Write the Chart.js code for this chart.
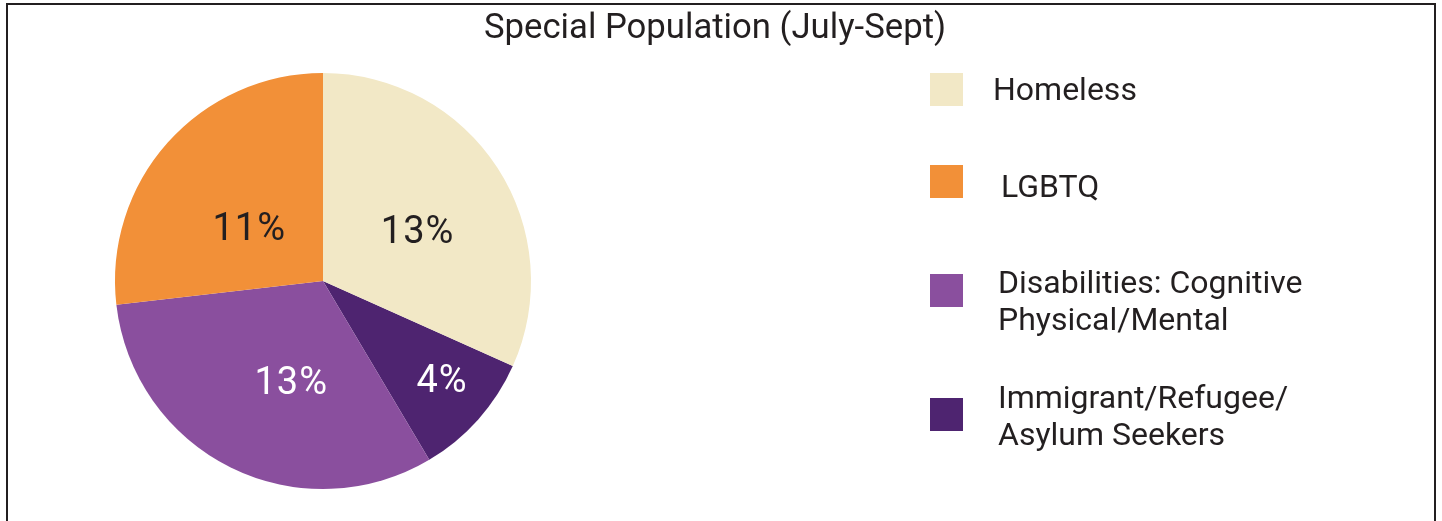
<!DOCTYPE html>
<html>
<head>
<meta charset="utf-8">
<script src="https://cdn.jsdelivr.net/npm/chart.js@4"></script>
<style>
html,body{margin:0;padding:0;background:#fff;}
#wrap{position:relative;width:1442px;height:521px;}
canvas{display:block;}
</style>
</head>
<body>
<div id="wrap"><canvas id="c" width="1442" height="521"></canvas></div>
<script>
const chartTitle = 'Special Population (July-Sept)';
const categories = ['Homeless', 'LGBTQ', 'Disabilities: Cognitive\nPhysical/Mental', 'Immigrant/Refugee/\nAsylum Seekers'];
const values = [13, 11, 13, 4];
const valueLabels = ['13%', '11%', '13%', '4%'];
const colors = ['#F2E8C6', '#F29038', '#8A4F9E', '#4E2470'];
const labelColors = ['#231F20', '#231F20', '#FFFFFF', '#FFFFFF'];

// Style: label placement within slices (fraction of radius, angle shift in degrees)
const labelRadius = [0.515, 0.442, 0.504, 0.739];
const labelAngleShift = [4.4, -5.6, -8.4, -2.2];
const legendTextX = [993, 1001, 998, 998];
const legendBoxY = [73, 165, 274, 398];
const legendBaseline = [100, 197, 293, 408];

const total = values.reduce((a, b) => a + b, 0);
// Drawn counter-clockwise from the top in the original: reverse for Chart.js (clockwise)
const order = categories.map((_, i) => i).reverse();
const rotation = 360 * values[0] / total;

const FONT = 'Roboto, "Liberation Sans", sans-serif';

const decorPlugin = {
  id: 'decor',
  afterDraw(chart) {
    const ctx = chart.ctx;
    ctx.save();
    // frame
    ctx.fillStyle = '#231F20';
    ctx.fillRect(6, 3, 1430, 2);
    ctx.fillRect(6, 3, 2, 518);
    ctx.fillRect(1434, 3, 2, 518);
    // title
    ctx.fillStyle = '#231F20';
    ctx.font = '34.7px ' + FONT;
    ctx.textAlign = 'center';
    ctx.textBaseline = 'alphabetic';
    ctx.fillText(chartTitle, 715, 38);
    // slice labels
    const meta = chart.getDatasetMeta(0);
    const fs = 38;
    meta.data.forEach((arc, k) => {
      const i = order[k];
      const p = arc.getProps(['x', 'y', 'startAngle', 'endAngle', 'outerRadius'], true);
      const mid = (p.startAngle + p.endAngle) / 2 + labelAngleShift[i] * Math.PI / 180;
      const r = p.outerRadius * labelRadius[i];
      const x = p.x + Math.cos(mid) * r;
      const y = p.y + Math.sin(mid) * r;
      ctx.fillStyle = labelColors[i];
      ctx.font = fs + 'px ' + FONT;
      try { ctx.letterSpacing = '1px'; } catch (e) {}
      ctx.textAlign = 'center';
      ctx.textBaseline = 'alphabetic';
      ctx.fillText(valueLabels[i], x + 0.5, y + fs * 0.345);
    });
    try { ctx.letterSpacing = '0px'; } catch (e) {}
    // legend
    categories.forEach((lab, i) => {
      ctx.fillStyle = colors[i];
      ctx.fillRect(930, legendBoxY[i], 33, 33);
      ctx.fillStyle = '#231F20';
      ctx.font = '32px ' + FONT;
      ctx.textAlign = 'left';
      ctx.textBaseline = 'alphabetic';
      const lines = lab.split('\n');
      const lh = 37;
      lines.forEach((ln, j) => ctx.fillText(ln, legendTextX[i], legendBaseline[i] + j * lh));
    });
    ctx.restore();
  }
};

new Chart(document.getElementById('c'), {
  type: 'pie',
  data: {
    labels: order.map(i => categories[i]),
    datasets: [{
      data: order.map(i => values[i]),
      backgroundColor: order.map(i => colors[i]),
      borderWidth: 0
    }]
  },
  options: {
    responsive: false,
    animation: false,
    rotation: rotation,
    layout: { padding: { left: 115, right: 911, top: 73, bottom: 32 } },
    plugins: {
      legend: { display: false },
      title: { display: false },
      tooltip: { enabled: false }
    }
  },
  plugins: [decorPlugin]
});
</script>
</body>
</html>
